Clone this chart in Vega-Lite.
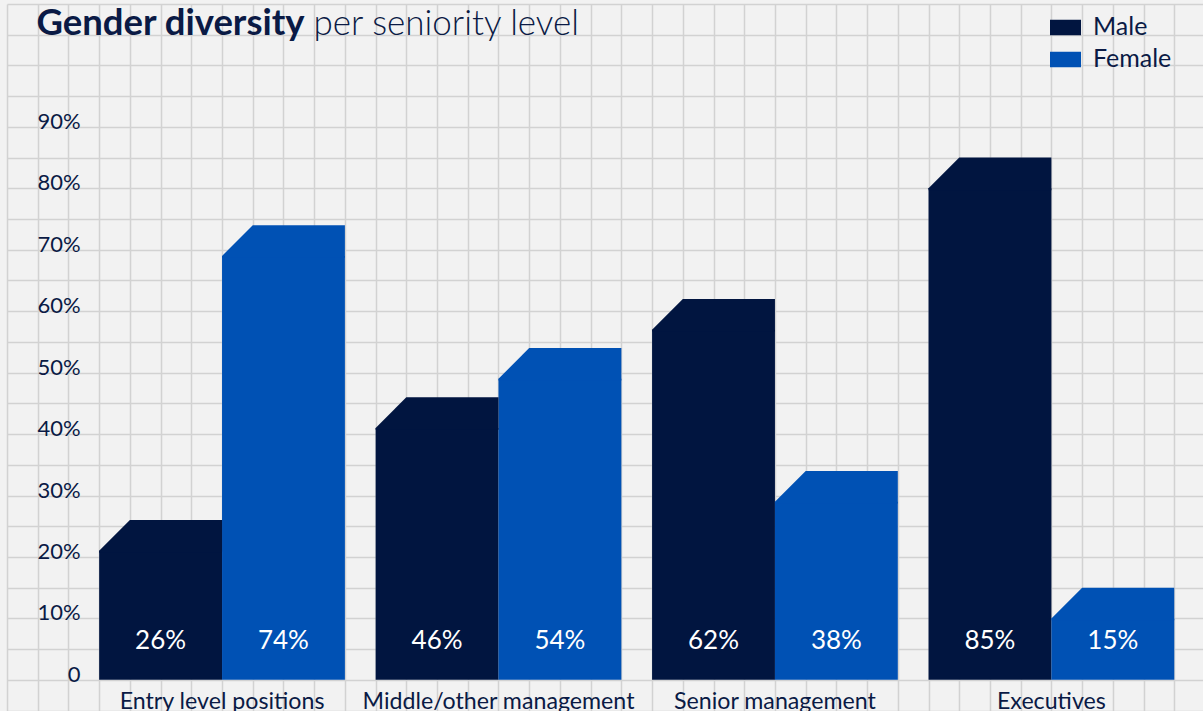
{
  "$schema": "https://vega.github.io/schema/vega-lite/v6.json",
  "width": 1198,
  "height": 706.56,
  "autosize": {"type": "none"},
  "padding": {"left": 7, "top": 4, "right": 0, "bottom": 0},
  "background": "#f2f2f2",
  "config": {
    "view": {"stroke": null, "fill": "#f2f2f2"},
    "font": "Lato",
    "axis": {"gridColor": "#d2d2d2", "gridWidth": 1.5, "gridOpacity": 1}
  },
  "data": {
    "values": [
      {"level": "Entry level positions", "gender": "Male", "value": 26, "label": "26%"},
      {"level": "Entry level positions", "gender": "Female", "value": 74, "label": "74%"},
      {"level": "Middle/other management", "gender": "Male", "value": 46, "label": "46%"},
      {"level": "Middle/other management", "gender": "Female", "value": 54, "label": "54%"},
      {"level": "Senior management", "gender": "Male", "value": 62, "label": "62%"},
      {"level": "Senior management", "gender": "Female", "value": 34, "label": "38%"},
      {"level": "Executives", "gender": "Male", "value": 85, "label": "85%"},
      {"level": "Executives", "gender": "Female", "value": 15, "label": "15%"}
    ]
  },
  "layer": [
    {
      "mark": {"type": "point", "opacity": 0},
      "encoding": {
        "x": {
          "datum": 0,
          "type": "quantitative",
          "scale": {"domain": [0, 39], "nice": false, "zero": false},
          "axis": {
            "orient": "top",
            "values": [0,1,2,3,4,5,6,7,8,9,10,11,12,13,14,15,16,17,18,19,20,21,22,23,24,25,26,27,28,29,30,31,32,33,34,35,36,37,38,39],
            "grid": true,
            "labels": false,
            "ticks": false,
            "domain": false,
            "title": "per seniority level",
            "titleX": 306,
            "titleY": 31,
            "titleAngle": 0,
            "titleAlign": "left",
            "titleBaseline": "alphabetic",
            "titleFont": "Lato",
            "titleFontSize": 35,
            "titleFontWeight": 300,
            "titleColor": "#0a1a45"
          }
        },
        "y": {
          "datum": 0,
          "type": "quantitative",
          "scale": {"domain": [0, 23], "nice": false, "zero": false},
          "axis": {
            "orient": "right",
            "values": [0,1,2,3,4,5,6,7,8,9,10,11,12,13,14,15,16,17,18,19,20,21,22,23],
            "grid": true,
            "labels": false,
            "ticks": false,
            "domain": false,
            "title": null
          }
        }
      }
    },
    {
      "encoding": {
        "x": {
          "field": "level",
          "type": "nominal",
          "sort": ["Entry level positions", "Middle/other management", "Senior management", "Executives"],
          "scale": {"type": "band", "paddingInner": 0.11111, "paddingOuter": 0.22222, "align": 0.75},
          "axis": {
            "orient": "bottom",
            "offset": -30.72,
            "title": null,
            "labelAngle": 0,
            "labelFontSize": 23.2,
            "labelColor": "#0a1a45",
            "labelPadding": 29,
            "labelBaseline": "alphabetic",
            "labelLimit": 0,
            "ticks": false,
            "tickSize": 0,
            "domain": false,
            "grid": false
          }
        },
        "xOffset": {
          "field": "gender",
          "type": "nominal",
          "sort": ["Male", "Female"],
          "scale": {"type": "band", "paddingInner": 0, "paddingOuter": 0}
        }
      },
      "layer": [
        {
          "mark": {"type": "bar", "yOffset": 30.72},
          "encoding": {
            "y": {
              "field": "value",
              "type": "quantitative",
              "scale": {"domain": [-5, 110], "nice": false, "zero": false},
              "axis": {
                "orient": "left",
                "values": [0, 10, 20, 30, 40, 50, 60, 70, 80, 90],
                "grid": false,
                "ticks": false,
                "tickSize": 0,
                "domain": false,
                "labelAlign": "right",
                "labelBaseline": "alphabetic",
                "labelPadding": -73,
                "labelOffset": 1.5,
                "labelFontSize": 22,
                "labelColor": "#0a1a45",
                "labelOverlap": false,
                "labelBound": false,
                "labelExpr": "datum.value == 0 ? '0' : datum.value + '%'",
                "title": "Gender diversity",
                "titleX": 29,
                "titleY": 31,
                "titleAngle": 0,
                "titleAlign": "left",
                "titleBaseline": "alphabetic",
                "titleFont": "Lato",
                "titleFontSize": 36.5,
                "titleFontWeight": "bold",
                "titleColor": "#0a1a45"
              }
            },
            "y2": {"datum": 0},
            "color": {
              "field": "gender",
              "type": "nominal",
              "scale": {"domain": ["Male", "Female"], "range": ["#011540", "#0051b4"]},
              "legend": {
                "orient": "none",
                "legendX": 1043,
                "legendY": 8,
                "title": null,
                "padding": 0,
                "rowPadding": 3,
                "symbolType": "M-1,-0.5H1V0.5H-1Z",
                "symbolSize": 961,
                "symbolStrokeWidth": 0,
                "symbolOpacity": 1,
                "labelFontSize": 25,
                "labelColor": "#0a1a45",
                "labelOffset": 12,
                "labelFont": "Lato"
              }
            }
          }
        },
        {
          "mark": {"type": "point", "shape": "M-0.5,0L1,0L1,0.53L-1,0.53L-1,0.5Z", "size": 15099.5, "filled": true, "opacity": 1, "strokeWidth": 0},
          "encoding": {
            "y": {"field": "value", "type": "quantitative"},
            "color": {"field": "gender", "type": "nominal"}
          }
        },
        {
          "mark": {"type": "text", "fontSize": 26, "color": "white", "align": "center", "baseline": "alphabetic"},
          "encoding": {
            "y": {"datum": 5, "type": "quantitative"},
            "text": {"field": "label"}
          }
        }
      ]
    }
  ],
  "resolve": {"scale": {"x": "independent", "y": "independent"}, "axis": {"x": "independent", "y": "independent"}}
}
